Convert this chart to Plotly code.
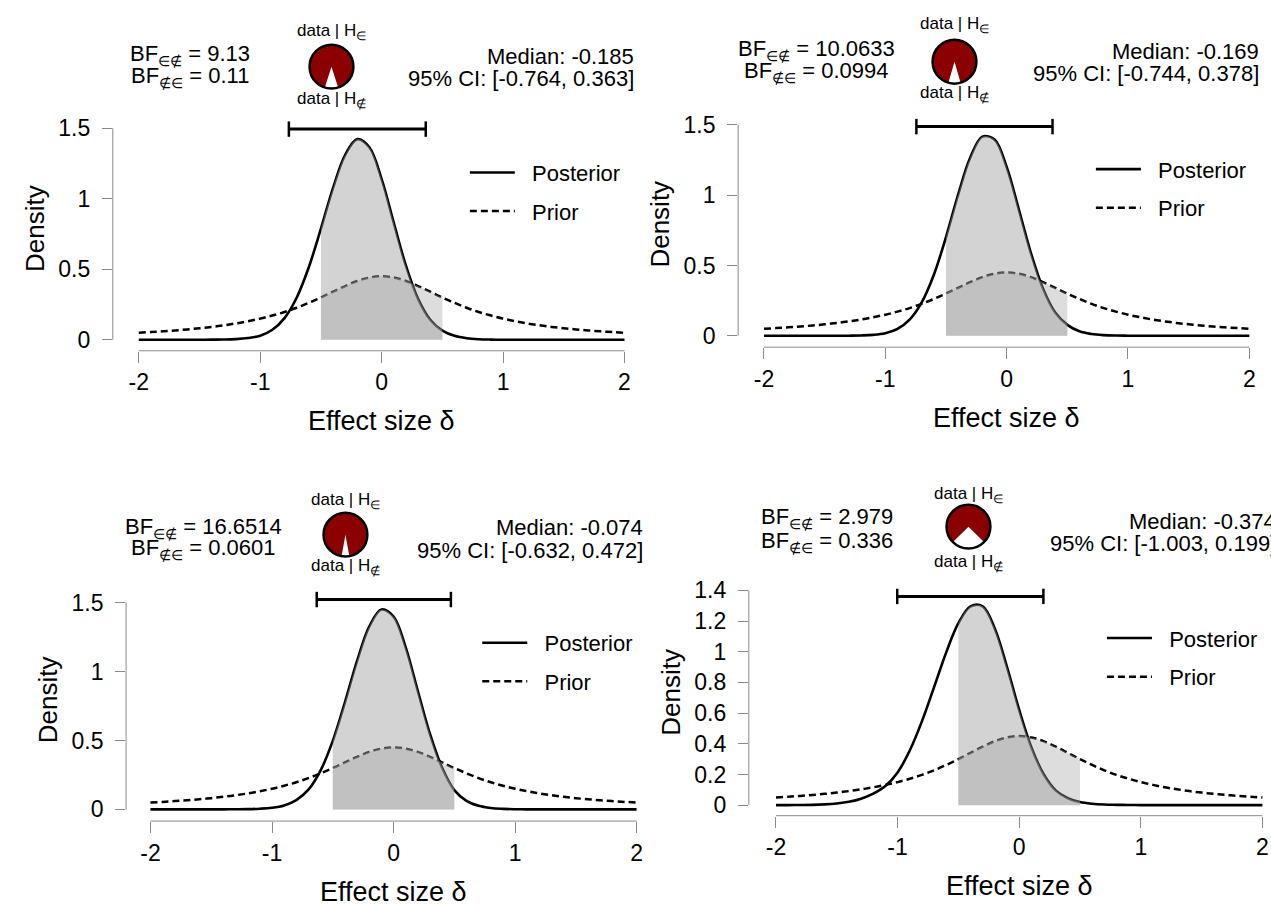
import plotly.graph_objects as go

W, H = 1271, 906
FONT = "Liberation Sans, Arial, Helvetica, sans-serif"

# ---------------- data ----------------
delta = [-2.0, -1.9, -1.8, -1.7, -1.6, -1.5, -1.4, -1.3, -1.2, -1.1,
         -1.0, -0.9, -0.8, -0.7, -0.6, -0.5, -0.4, -0.3, -0.2, -0.1,
         0.0, 0.1, 0.2, 0.3, 0.4, 0.5, 0.6, 0.7, 0.8, 0.9,
         1.0, 1.1, 1.2, 1.3, 1.4, 1.5, 1.6, 1.7, 1.8, 1.9, 2.0]

prior_density = [0.050, 0.0547, 0.0602, 0.0664, 0.0735, 0.0818, 0.0915, 0.103, 0.116, 0.132,
                 0.150, 0.172, 0.197, 0.227, 0.262, 0.300, 0.341, 0.381, 0.417, 0.441,
                 0.450, 0.441, 0.417, 0.381, 0.341, 0.300, 0.262, 0.227, 0.197, 0.172,
                 0.150, 0.132, 0.116, 0.103, 0.0915, 0.0818, 0.0735, 0.0664, 0.0602, 0.0547, 0.050]

posterior_1 = [0, 0, 0, 0, 0.0002, 0.0004, 0.001, 0.002, 0.005, 0.013,
               0.029, 0.071, 0.154, 0.298, 0.514, 0.788, 1.077, 1.311, 1.422, 1.363,
               1.139, 0.829, 0.525, 0.290, 0.142, 0.065, 0.028, 0.011, 0.004, 0.0015,
               0.0005, 0.0002, 0, 0, 0, 0, 0, 0, 0, 0, 0]

posterior_2 = [0, 0, 0, 0, 0, 0.0002, 0.0005, 0.001, 0.0025, 0.007,
               0.019, 0.049, 0.115, 0.238, 0.434, 0.702, 1.003, 1.267, 1.416, 1.395,
               1.200, 0.899, 0.588, 0.335, 0.166, 0.078, 0.032, 0.013, 0.005, 0.002,
               0.001, 0.0003, 0, 0, 0, 0, 0, 0, 0, 0, 0]

posterior_3 = [0, 0, 0, 0, 0, 0.0002, 0.0005, 0.001, 0.002, 0.005,
               0.012, 0.029, 0.068, 0.143, 0.283, 0.497, 0.777, 1.077, 1.326, 1.450,
               1.399, 1.176, 0.859, 0.547, 0.302, 0.140, 0.062, 0.026, 0.010, 0.004,
               0.0015, 0.0006, 0.0002, 0, 0, 0, 0, 0, 0, 0, 0]

posterior_4 = [0.0001, 0.0003, 0.001, 0.002, 0.005, 0.011, 0.022, 0.042, 0.075, 0.125,
               0.213, 0.356, 0.546, 0.769, 0.996, 1.186, 1.296, 1.296, 1.150, 0.900,
               0.621, 0.378, 0.203, 0.096, 0.045, 0.020, 0.009, 0.004, 0.002, 0.001,
               0.0004, 0, 0, 0, 0, 0, 0, 0, 0, 0, 0]

bf_in_out = [9.13, 10.0633, 16.6514, 2.979]
bf_out_in = [0.11, 0.0994, 0.0601, 0.336]
medians = [-0.185, -0.169, -0.074, -0.374]
ci_lower = [-0.764, -0.744, -0.632, -1.003]
ci_upper = [0.363, 0.378, 0.472, 0.199]
interval = [-0.5, 0.5]

x_ticks = [-2, -1, 0, 1, 2]
x_tick_labels = ["-2", "-1", "0", "1", "2"]
y_ticks_a = [0, 0.5, 1, 1.5]
y_tick_labels_a = ["0", "0.5", "1", "1.5"]
y_ticks_b = [0, 0.2, 0.4, 0.6, 0.8, 1, 1.2, 1.4]
y_tick_labels_b = ["0", "0.2", "0.4", "0.6", "0.8", "1", "1.2", "1.4"]

posteriors = [posterior_1, posterior_2, posterior_3, posterior_4]

# ---------------- layout geometry (pixels) ----------------
panels = [
    dict(xm2=139.0, xp2=625.5, y0=339.3, ytop=126.7, yaxx=113.0, xaxy=350.3,
         yt=(y_ticks_a, y_tick_labels_a),
         bf_x=190, bf_y=(53, 75), pie=(332, 65), data_y=(30, 98), med_r=637, med_y=(55, 77),
         leg=(470.6, 173.3)),
    dict(xm2=765.2, xp2=1251.3, y0=335.3, ytop=123.3, yaxx=739.3, xaxy=346.7,
         yt=(y_ticks_a, y_tick_labels_a),
         bf_x=818, bf_y=(48, 70), pie=(956, 60), data_y=(23, 92), med_r=1263, med_y=(50, 72),
         leg=(1097.6, 170.0)),
    dict(xm2=150.7, xp2=637.6, y0=811.0, ytop=603.3, yaxx=126.3, xaxy=822.7,
         yt=(y_ticks_a, y_tick_labels_a),
         bf_x=203.5, bf_y=(528, 549), pie=(346, 535), data_y=(501, 568), med_r=646, med_y=(528, 551),
         leg=(483.0, 645.7)),
    dict(xm2=777.2, xp2=1264.4, y0=806.7, ytop=591.0, yaxx=750.0, xaxy=817.3,
         yt=(y_ticks_b, y_tick_labels_b),
         bf_x=828, bf_y=(518, 542), pie=(970, 527), data_y=(495, 563), med_r=1280, med_y=(522, 544),
         leg=(1108.7, 641.0)),
]

AXIS_GREY = "#8a8a8a"
POST_FILL = "rgba(160,160,160,0.46)"
PRIOR_FILL = "rgba(160,160,160,0.36)"
PIE_RED = "#8B0000"
PIE_D = 44

fig = go.Figure()
annotations = []
shapes = []
layout_axes = {}


def px_x(p):
    return p / W


def px_y(p):
    return 1 - p / H


def small_sub(s, size):
    return f"<sub><span style='font-size:{size}px'>{s}</span></sub>"


for i, (pan, post) in enumerate(zip(panels, posteriors)):
    n = i + 1
    xa = "x" if n == 1 else f"x{n}"
    ya = "y" if n == 1 else f"y{n}"
    leg = "legend" if n == 1 else f"legend{n}"
    yvals, ytext = pan["yt"]
    top_val = yvals[-1]

    ux = (pan["xp2"] - pan["xm2"]) / 4.0
    uy = (pan["y0"] - pan["ytop"]) / top_val
    x_lo = -2 - (pan["xm2"] - pan["yaxx"]) / ux
    x_hi = 2.04
    y_lo = -(pan["xaxy"] - pan["y0"]) / uy
    y_hi = top_val + 0.08
    dom_x = [px_x(pan["yaxx"]), px_x(pan["xm2"] + (x_hi + 2) * ux)]
    dom_y = [px_y(pan["xaxy"]), px_y(pan["y0"] - y_hi * uy)]

    # curves
    fig.add_trace(go.Scatter(
        x=delta, y=prior_density, mode="lines", name="\u00a0\u00a0Prior",
        line=dict(color="black", width=2.5, dash="7px,4px", shape="spline"),
        xaxis=xa, yaxis=ya, legend=leg, legendgroup=f"prior{n}", legendrank=2,
        hoverinfo="skip"))
    fig.add_trace(go.Scatter(
        x=delta, y=post, mode="lines", name="\u00a0\u00a0Posterior",
        line=dict(color="black", width=2.6, shape="spline"),
        xaxis=xa, yaxis=ya, legend=leg, legendgroup=f"post{n}", legendrank=1,
        hoverinfo="skip"))

    # shaded interval areas
    idx = [k for k, d in enumerate(delta) if interval[0] - 1e-9 <= d <= interval[1] + 1e-9]
    fig.add_trace(go.Scatter(
        x=[delta[k] for k in idx], y=[post[k] for k in idx], mode="lines",
        line=dict(width=0, shape="spline"), fill="tozeroy", fillcolor=POST_FILL,
        xaxis=xa, yaxis=ya, showlegend=False, hoverinfo="skip"))
    fig.add_trace(go.Scatter(
        x=[delta[k] for k in idx], y=[prior_density[k] for k in idx], mode="lines",
        line=dict(width=0, shape="spline"), fill="tozeroy", fillcolor=PRIOR_FILL,
        xaxis=xa, yaxis=ya, showlegend=False, hoverinfo="skip"))

    # credible interval bar
    bar_h = 1.05 * max(post)
    fig.add_trace(go.Scatter(
        x=[ci_lower[i], ci_upper[i]], y=[bar_h, bar_h], mode="lines+markers",
        line=dict(color="black", width=3),
        marker=dict(symbol="line-ns", size=11, line=dict(color="black", width=2.5)),
        xaxis=xa, yaxis=ya, showlegend=False, hoverinfo="skip", cliponaxis=False))

    # axes
    layout_axes["xaxis" if n == 1 else f"xaxis{n}"] = dict(
        domain=dom_x, range=[x_lo, x_hi], anchor=ya, showgrid=False, zeroline=False,
        showline=False, ticks="outside", ticklen=11, tickwidth=1, tickcolor=AXIS_GREY,
        tickvals=x_ticks, ticktext=x_tick_labels, ticklabelstandoff=0,
        tickfont=dict(family=FONT, size=23, color="black"), fixedrange=True)
    layout_axes["yaxis" if n == 1 else f"yaxis{n}"] = dict(
        domain=dom_y, range=[y_lo, y_hi], anchor=xa, showgrid=False, zeroline=False,
        showline=False, ticks="outside", ticklen=10, tickwidth=1, tickcolor=AXIS_GREY,
        tickvals=yvals, ticktext=ytext, ticklabelstandoff=7,
        tickfont=dict(family=FONT, size=23, color="black"), fixedrange=True)

    # detached axis lines spanning only the tick range
    shapes.append(dict(type="line", xref=xa, yref=f"{ya} domain", x0=x_ticks[0], x1=x_ticks[-1],
                       y0=0, y1=0, line=dict(color=AXIS_GREY, width=1)))
    shapes.append(dict(type="line", xref=f"{xa} domain", yref=ya, x0=0, x1=0,
                       y0=yvals[0], y1=yvals[-1], line=dict(color=AXIS_GREY, width=1)))

    # legend
    lx, ly = pan["leg"]
    layout_axes[leg] = dict(
        x=px_x(lx - 5), y=px_y(ly - 23), xanchor="left", yanchor="top",
        bgcolor="rgba(0,0,0,0)", borderwidth=0, itemwidth=45, tracegroupgap=7,
        traceorder="grouped", font=dict(family=FONT, size=22, color="black"))

    # axis titles
    annotations.append(dict(
        text="Density", textangle=-90, xref="paper", yref="paper",
        x=px_x(pan["yaxx"] - 78), y=px_y((pan["y0"] + pan["ytop"]) / 2 - 6),
        showarrow=False, font=dict(family=FONT, size=26, color="black"),
        xanchor="center", yanchor="middle"))
    annotations.append(dict(
        text="Effect size δ", xref="paper", yref="paper",
        x=px_x(pan["xm2"] + 2 * ux), y=px_y(pan["xaxy"] + 71),
        showarrow=False, font=dict(family=FONT, size=27, color="black"),
        xanchor="center", yanchor="middle"))

    # Bayes factor text
    annotations.append(dict(
        text=f"BF{small_sub('∈∉', 14)} = {bf_in_out[i]}", xref="paper", yref="paper",
        x=px_x(pan["bf_x"]), y=px_y(pan["bf_y"][0]), showarrow=False,
        font=dict(family=FONT, size=22, color="black"), xanchor="center", yanchor="middle"))
    annotations.append(dict(
        text=f"BF{small_sub('∉∈', 14)} = {bf_out_in[i]}", xref="paper", yref="paper",
        x=px_x(pan["bf_x"]), y=px_y(pan["bf_y"][1]), showarrow=False,
        font=dict(family=FONT, size=22, color="black"), xanchor="center", yanchor="middle"))

    # median / CI text
    annotations.append(dict(
        text=f"Median: {medians[i]}", xref="paper", yref="paper",
        x=px_x(pan["med_r"]), y=px_y(pan["med_y"][0]), showarrow=False,
        font=dict(family=FONT, size=22, color="black"), xanchor="right", yanchor="middle"))
    annotations.append(dict(
        text=f"95% CI: [{ci_lower[i]}, {ci_upper[i]}]", xref="paper", yref="paper",
        x=px_x(pan["med_r"]), y=px_y(pan["med_y"][1]), showarrow=False,
        font=dict(family=FONT, size=22, color="black"), xanchor="right", yanchor="middle"))

    # pie labels
    cx, cy = pan["pie"]
    annotations.append(dict(
        text=f"data | H{small_sub('∈', 12)}", xref="paper", yref="paper",
        x=px_x(cx), y=px_y(pan["data_y"][0]), showarrow=False,
        font=dict(family=FONT, size=17, color="black"), xanchor="center", yanchor="middle"))
    annotations.append(dict(
        text=f"data | H{small_sub('∉', 12)}", xref="paper", yref="paper",
        x=px_x(cx), y=px_y(pan["data_y"][1]), showarrow=False,
        font=dict(family=FONT, size=17, color="black"), xanchor="center", yanchor="middle"))

    # pie of posterior model probabilities
    dom = dict(x=[px_x(cx - PIE_D / 2), px_x(cx + PIE_D / 2)],
               y=[px_y(cy + PIE_D / 2), px_y(cy - PIE_D / 2)])
    white_share = 1.0 / (1.0 + bf_in_out[i])
    fig.add_trace(go.Pie(
        values=[1.0, bf_in_out[i]], labels=["data | H∉", "data | H∈"],
        marker=dict(colors=["white", PIE_RED], line=dict(width=0)),
        sort=False, direction="clockwise", rotation=180 - 180 * white_share,
        textinfo="none", hoverinfo="skip", showlegend=False, domain=dom))
    fig.add_trace(go.Pie(
        values=[1.0], labels=["outline"],
        marker=dict(colors=["rgba(0,0,0,0)"], line=dict(color="black", width=2.5)),
        sort=False, textinfo="none", hoverinfo="skip", showlegend=False, domain=dom))

fig.update_layout(
    width=W, height=H, margin=dict(l=0, r=0, t=0, b=0),
    paper_bgcolor="white", plot_bgcolor="white",
    font=dict(family=FONT, color="black"),
    annotations=annotations, shapes=shapes, showlegend=True,
    **layout_axes)

fig.write_html("out.html", config=dict(displayModeBar=False))
